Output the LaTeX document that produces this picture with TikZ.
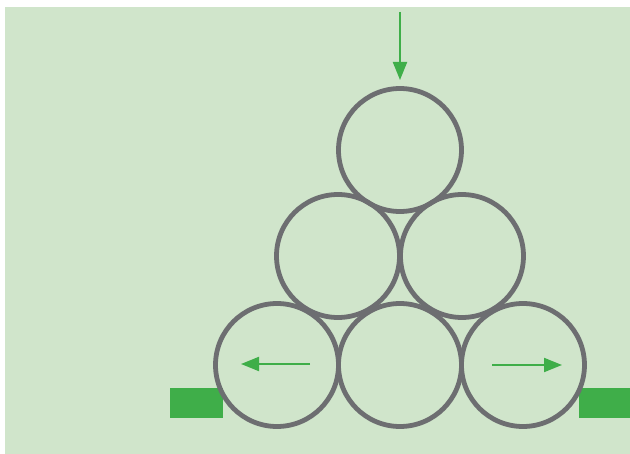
\documentclass[tikz,border=0pt]{standalone}
\usetikzlibrary{arrows.meta}
\definecolor{bgfill}{HTML}{D0E5CB}
\definecolor{force}{HTML}{3FAE49}
\definecolor{rim}{HTML}{6D6E71}
\tikzset{
  ball/.style={circle, draw=rim, line width=4.8pt, minimum size=123pt, inner sep=0pt},
  push/.style={draw=force, line width=2pt, -{Triangle[length=18pt,width=14pt]}},
  block/.style={fill=force, draw=none}
}
\begin{document}
\begin{tikzpicture}[x=1pt,y=-1pt]
  \useasboundingbox (0,0) rectangle (630,454);
  \fill[bgfill] (5,7) rectangle (630,454);
  % walls
  \fill[block] (170,388) rectangle (223,418);
  \fill[block] (579,388) rectangle (630,418);
  % stacked balls
  \node[ball] (t)  at (400,150) {};
  \node[ball] (ml) at (338,256) {};
  \node[ball] (mr) at (462,256) {};
  \node[ball] (bl) at (277,365) {};
  \node[ball] (bm) at (400,365) {};
  \node[ball] (br) at (523,365) {};
  % forces
  \coordinate (ftop) at (400,12);
  \coordinate (ftip) at (400,80);
  \draw[push] (ftop) -- (ftip);
  \coordinate (lfrom) at (310,364);
  \coordinate (lto) at (241,364);
  \draw[push] (lfrom) -- (lto);
  \coordinate (rfrom) at (492,365);
  \coordinate (rto) at (562,365);
  \draw[push] (rfrom) -- (rto);
\end{tikzpicture}
\end{document}
